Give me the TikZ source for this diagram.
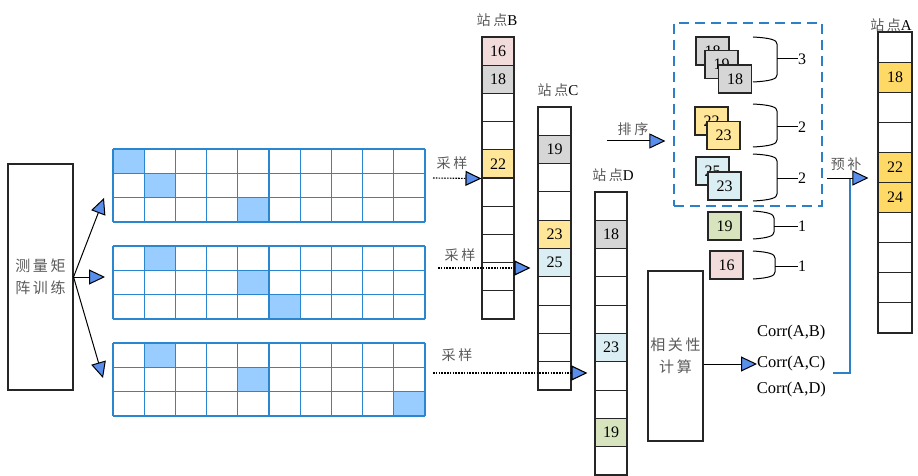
\documentclass[tikz,border=0pt]{standalone}
\usepackage{fontspec}
\setmainfont{Liberation Serif}
\newfontfamily\cjk[LetterSpace=18]{Noto Sans CJK SC}
\usetikzlibrary{arrows.meta}
\definecolor{cpink}{HTML}{F2DCDB}
\definecolor{cgrey}{HTML}{D6D6D6}
\definecolor{cyellow}{HTML}{FFE699}
\definecolor{clblue}{HTML}{DAEEF3}
\definecolor{cgreen}{HTML}{D7E4BD}
\definecolor{corange}{HTML}{FFD966}
\definecolor{gridblue}{HTML}{2A86CF}
\definecolor{hilite}{HTML}{99CCFF}
\definecolor{triblue}{HTML}{5A8EEB}
\definecolor{boxblue}{HTML}{2E80C6}
\definecolor{cjkgrey}{HTML}{5A5A5A}
\tikzset{
  cell/.style={draw=black!85, line width=1.1pt, inner sep=0pt, font=\fontsize{16}{18}\selectfont},
  tile/.style={cell, minimum width=33pt, minimum height=28pt},
  zh/.style={font=\cjk\fontsize{14}{16}\selectfont, text=cjkgrey, inner sep=0pt},
  stlabel/.style={inner sep=0pt, font=\fontsize{15}{17}\selectfont},
  tri/.style={line width=1pt, -{Triangle[length=16pt,width=15pt,fill=triblue]}},
  samp/.style={line width=1.1pt, dash pattern=on 1.6pt off 1.2pt, -{Triangle[length=16pt,width=15pt,fill=triblue]}},
  bigbox/.style={draw=black!85, line width=1.1pt, inner sep=0pt, align=center,
     font=\cjk\fontsize{15}{22}\selectfont, text=cjkgrey},
  brace/.style={line width=1pt},
  num/.style={inner sep=0pt, font=\fontsize{16}{18}\selectfont},
}
\begin{document}
\begin{tikzpicture}[x=1pt,y=-1pt]
\useasboundingbox (0,0) rectangle (918,476);

% left box
\node[bigbox, minimum width=65pt, minimum height=226pt] (L) at (40.5,277) {测量矩\\阵训练};

% grids
\foreach \gy/\ha/\hb/\hc in {149/0/1/4, 246/1/4/5, 343/1/4/9}{
  \fill[hilite] ({113+31.2*\ha},\gy) rectangle ++(31.2,24.3);
  \fill[hilite] ({113+31.2*\hb},{\gy+24.3}) rectangle ++(31.2,24.3);
  \fill[hilite] ({113+31.2*\hc},{\gy+48.6}) rectangle ++(31.2,24.3);
  \foreach \k in {0,...,3} \draw[gridblue, line width=1.3pt] (113,{\gy+24.3*\k}) -- (425,{\gy+24.3*\k});
  \foreach \k in {0,...,10} \draw[gridblue, line width=1.3pt] ({113+31.2*\k},\gy) -- ({113+31.2*\k},{\gy+72.9});
}
\coordinate (g1) at (104,198);
\coordinate (g2) at (105,277);
\coordinate (g3) at (103,378);
\draw[tri] (L.east) -- (g1);
\draw[tri] (L.east) -- (g2);
\draw[tri] (L.east) -- (g3);

% station B
\node[stlabel] at (497,20) {{\cjk\color{cjkgrey}\fontsize{14}{16}\selectfont 站点}B};
\foreach \i/\t/\c in {1/16/cpink,2/18/cgrey,3//white,4//white,5/22/cyellow,6//white,7//white,8//white,9//white,10//white}
  \node[cell, fill=\c, minimum width=32pt, minimum height=28.2pt] (B\i) at (498,{37+28.2*(\i-0.5)}) {\t};
% station C
\node[stlabel] at (558,90) {{\cjk\color{cjkgrey}\fontsize{14}{16}\selectfont 站点}C};
\foreach \i/\t/\c in {1//white,2/19/cgrey,3//white,4//white,5/23/cyellow,6/25/clblue,7//white,8//white,9//white,10//white}
  \node[cell, fill=\c, minimum width=33pt, minimum height=28.3pt] (C\i) at (554.5,{107+28.3*(\i-0.5)}) {\t};
% station D
\node[stlabel] at (613,175) {{\cjk\color{cjkgrey}\fontsize{14}{16}\selectfont 站点}D};
\foreach \i/\t/\c in {1//white,2/18/cgrey,3//white,4//white,5//white,6/23/clblue,7//white,8//white,9/19/cgreen,10//white}
  \node[cell, fill=\c, minimum width=32pt, minimum height=28.3pt] (D\i) at (611,{192+28.3*(\i-0.5)}) {\t};
% station A
\node[stlabel] at (891,25) {{\cjk\color{cjkgrey}\fontsize{14}{16}\selectfont 站点}A};
\foreach \i/\t/\c in {1//white,2/18/corange,3//white,4//white,5/22/corange,6/24/corange,7//white,8//white,9//white,10//white}
  \node[cell, fill=\c, minimum width=34pt, minimum height=30.1pt] (A\i) at (895,{32+30.1*(\i-0.5)}) {\t};

% sampling
\node[zh] at (452,163) {采样};
\coordinate (s1) at (433,178);
\draw[samp] (s1) -- (B5.south west);
\node[zh] at (460,255) {采样};
\coordinate (s2) at (438,268);
\draw[samp, shorten >=7pt] (s2) -- (s2 -| C6.west);
\node[zh] at (457,355) {采样};
\coordinate (s3) at (433,373);
\draw[samp, shorten >=7pt] (s3) -- (s3 -| D7.west);

% sorting box
\node[draw=boxblue, line width=1.2pt, dash pattern=on 10pt off 6pt, minimum width=148pt, minimum height=183pt, inner sep=0pt] (grp) at (748,114.5) {};
\node[zh] at (633,129) {排序};
\coordinate (p0) at (607,141);
\draw[tri, shorten >=8pt] (p0) -- (p0 -| grp.west);

\node[tile, fill=cgrey] (t1a) at (712.5,51) {18};
\node[tile, fill=cgrey] (t1b) at (721.5,64.5) {19};
\node[tile, fill=cgrey] (t1c) at (735,79) {18};
\node[tile, fill=cyellow] (t2a) at (711.5,121) {22};
\node[tile, fill=cyellow] (t2b) at (723.5,135.5) {23};
\node[tile, fill=clblue] (t3a) at (712.5,171) {25};
\node[tile, fill=clblue] (t3b) at (724.5,186) {23};
\node[tile, fill=cgreen] (t4) at (724.5,226) {19};
\node[tile, fill=cpink] (t5) at (726.5,265) {16};

% braces
\foreach \top/\bot/\xv/\mid/\lab/\nm in {37/82/777/59/3/n1, 104/147/777/127/2/n2, 154/201/777/178/2/n3, 211/239/774/226/1/n4, 251/279/775/266/1/n5}{
  \draw[brace] (753,\top) .. controls ({\xv-6},{\top+1}) and (\xv,{\top+3}) .. (\xv,{\top+7})
     -- (\xv,{\bot-7}) .. controls (\xv,{\bot-3}) and ({\xv-6},{\bot-1}) .. (753,\bot);
  \node[num, anchor=west] (\nm) at (798,\mid) {\lab};
  \draw[brace] (\xv,\mid) -- (\nm.west);
}

% correlation
\node[bigbox, minimum width=55pt, minimum height=170pt] (R) at (675.5,356) {相关性\\计算};
\node[num, anchor=west, font=\fontsize{16.5}{18}\selectfont] (cAC) at (757,364) {Corr(A,C)};
\node[num, font=\fontsize{16.5}{18}\selectfont] (cAB) at (cAC.center |- 0,333) {Corr(A,B)};
\node[num, font=\fontsize{16.5}{18}\selectfont] (cAD) at (cAC.center |- 0,390) {Corr(A,D)};
\draw[tri] (R.east |- cAC.west) -- (cAC.west);

\coordinate (b0) at (833,373);
\coordinate (yb) at (827,178);
\draw[boxblue, line width=1.3pt] (b0) -| (850,178);
\node[zh] at (846,164) {预补};
\draw[tri, shorten >=9pt] (yb) -- (yb -| A5.west);
\end{tikzpicture}
\end{document}
